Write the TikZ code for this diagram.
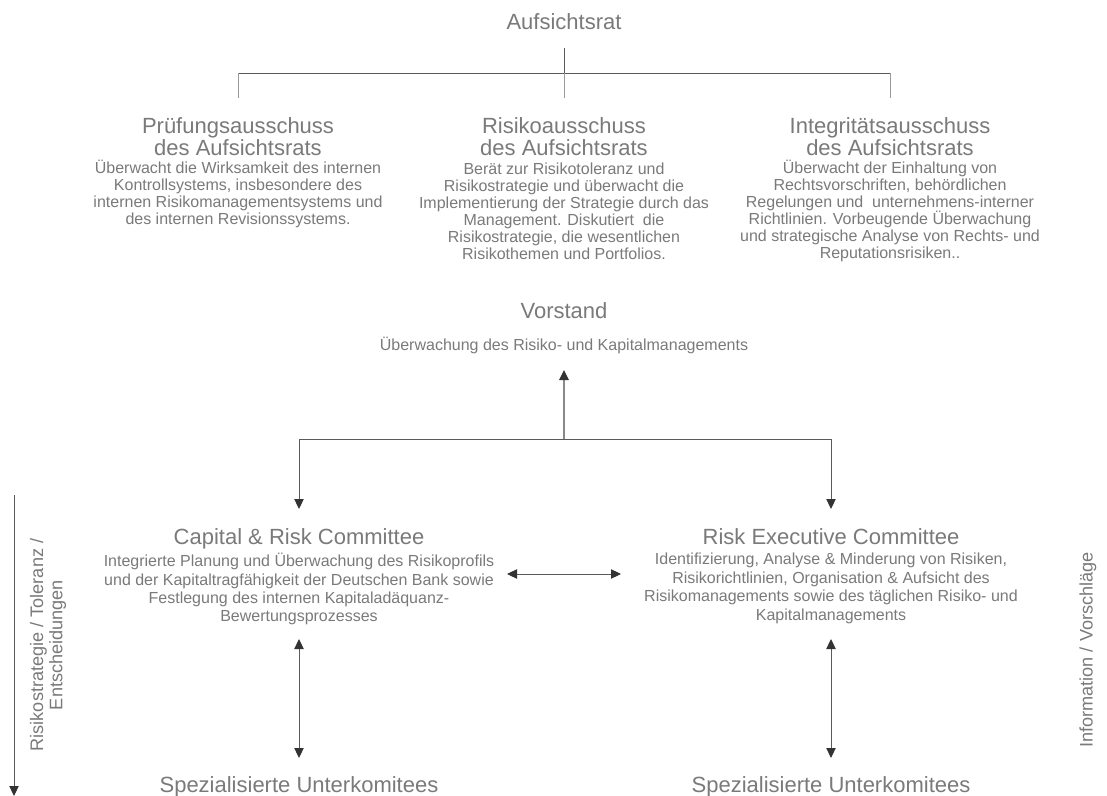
\documentclass[tikz,border=0pt]{standalone}
\usepackage{fontspec}
\setmainfont{Liberation Sans}
\usetikzlibrary{arrows.meta}
\definecolor{txt}{HTML}{7A7A7A}
\definecolor{ln}{HTML}{5A5A5A}
\definecolor{lnlight}{HTML}{9A9A9A}
\definecolor{lnv}{HTML}{8A8A8A}
\definecolor{tipc}{HTML}{333333}
\newcommand{\fhead}{\fontsize{16.5}{16.5}\selectfont\lineskiplimit=-\maxdimen}
\newcommand{\fbody}{\fontsize{12}{12.75}\selectfont\lineskiplimit=-\maxdimen}
\newcommand{\fbodyb}{\fontsize{12}{13.8}\selectfont\lineskiplimit=-\maxdimen}
\newcommand{\fside}{\fontsize{13.6}{14.5}\selectfont\lineskiplimit=-\maxdimen}
\begin{document}
\begin{tikzpicture}[x=0.75pt,y=-0.75pt,
  head/.style={font=\fhead, text=txt, inner sep=0pt, align=center},
  body/.style={font=\fbody, text=txt, inner sep=0pt, align=center},
  bodyb/.style={font=\fbodyb, text=txt, inner sep=0pt, align=center},
  side/.style={font=\fside, text=txt, inner sep=0pt, align=center, rotate=90},
  conn/.style={draw=ln, line width=0.75pt},
  drop/.style={draw=lnlight, line width=0.75pt},
  tipend/.style={-{Triangle[length=7.5pt,width=7pt,color=tipc]}},
  tipboth/.style={{Triangle[length=7.5pt,width=7pt,color=tipc]}-{Triangle[length=7.5pt,width=7pt,color=tipc]}}
]
\fill[white] (0,0) rectangle (1107,796);
\useasboundingbox (0,0) rectangle (1107,796);

% ---- Aufsichtsrat level
\node[head, anchor=base] (aufs) at (564,29) {Aufsichtsrat};

\node[head, anchor=north] (pruefh) at (238,117) {Prüfungsausschuss\\des Aufsichtsrats};
\node[body, anchor=north] (pruefb) at (238,160) {Überwacht die Wirksamkeit des internen\\Kontrollsystems, insbesondere des\\internen Risikomanagementsystems und\\des internen Revisionssystems.};

\node[head, anchor=north] (riskh) at (564,117) {Risikoausschuss\\des Aufsichtsrats};
\node[body, anchor=north] (riskb) at (564,162.3) {Berät zur Risikotoleranz und\\Risikostrategie und überwacht die\\Implementierung der Strategie durch das\\Management. Diskutiert~ die\\Risikostrategie, die wesentlichen\\Risikothemen und Portfolios.};

\node[head, anchor=north] (integh) at (890,117) {Integritätsausschuss\\des Aufsichtsrats};
\node[body, anchor=north] (integb) at (890,160) {Überwacht der Einhaltung von\\Rechtsvorschriften, behördlichen\\Regelungen und~ unternehmens-interner\\Richtlinien. Vorbeugende Überwachung\\und strategische Analyse von Rechts- und\\Reputationsrisiken..};

\coordinate (tA) at (564,48);
\coordinate (tJ) at (564,73);
\coordinate (tL) at (238,73);
\coordinate (tR) at (890,73);
\coordinate (dL) at (238,98);
\coordinate (dM) at (564,98);
\coordinate (dR) at (890,98);
\draw[conn] (tA) -- (tJ);
\draw[conn] (tL) -- (tR);
\draw[drop] (tL) -- (dL);
\draw[drop] (tJ) -- (dM);
\draw[drop] (tR) -- (dR);

% ---- Vorstand
\node[head, anchor=base] (vorst) at (564,318) {Vorstand};
\node[body, anchor=base] (vorstb) at (564,350) {Überwachung des Risiko- und Kapitalmanagements};

\coordinate (vJ) at (564,439);
\coordinate (vT) at (564,370);
\coordinate (cL) at (299,439);
\coordinate (cR) at (831,439);
\coordinate (cLt) at (299,509);
\coordinate (cRt) at (831,509);
\draw[draw=lnv, line width=1.4pt, tipend] (vJ) -- (vT);
\draw[conn, tipend] (vJ) -- (cL) -- (cLt);
\draw[conn, tipend] (vJ) -- (cR) -- (cRt);

% ---- Committees
\node[head, anchor=base] (crch) at (299,544) {Capital \& Risk Committee};
\node[bodyb, anchor=north] (crcb) at (299,553) {Integrierte Planung und Überwachung des Risikoprofils\\und der Kapitaltragfähigkeit der Deutschen Bank sowie\\Festlegung des internen Kapitaladäquanz-\\Bewertungsprozesses};

\node[head, anchor=base] (rech) at (831,544) {Risk Executive Committee};
\node[bodyb, anchor=north] (recb) at (831,553) {Identifizierung, Analyse \& Minderung von Risiken,\\Risikorichtlinien, Organisation \& Aufsicht des\\Risikomanagements sowie des täglichen Risiko- und\\Kapitalmanagements};

\coordinate (hL) at (507,574);
\coordinate (hR) at (621,574);
\draw[conn, tipboth] (hL) -- (hR);

% ---- Sub-committees
\node[head, anchor=base] (subl) at (299,792) {Spezialisierte Unterkomitees};
\node[head, anchor=base] (subr) at (831,792) {Spezialisierte Unterkomitees};

\coordinate (lT) at (299,639);
\coordinate (lB) at (299,758);
\coordinate (rT) at (831,639);
\coordinate (rB) at (831,758);
\draw[conn, tipboth] (lT) -- (lB);
\draw[conn, tipboth] (rT) -- (rB);

% ---- Side labels
\node[side] (labl) at (48,645) {Risikostrategie / Toleranz /\\Entscheidungen};
\node[side] (labr) at (1088,650) {Information / Vorschläge};
\coordinate (aT) at (14,495);
\coordinate (aB) at (14,796);
\draw[conn, tipend] (aT) -- (aB);
\end{tikzpicture}
\end{document}
